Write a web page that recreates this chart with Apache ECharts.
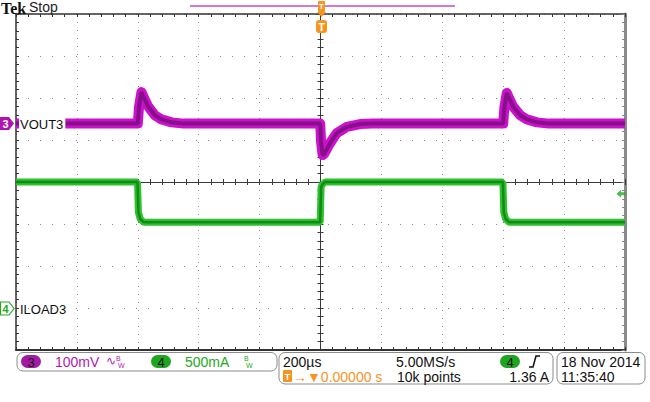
<!DOCTYPE html>
<html>
<head>
<meta charset="utf-8">
<script src="https://cdn.jsdelivr.net/npm/echarts@6/dist/echarts.min.js"></script>
<style>
  html, body { margin: 0; padding: 0; background: #fff; }
  #scope { width: 650px; height: 402px; }
</style>
</head>
<body>
<div id="scope"></div>
<script>
// horizontal: 200 us/div, 10 div, trigger in the middle
const timeMin = -1000;
const timeMax = 1000;

// CH3 VOUT3, mV relative to its ground marker (100 mV/div)
const voutTime = [-1000, -600, -596, -588, -580, -567, -544, -522, -489, -450,
  -1, 2, 7, 12, 31, 53, 86, 130, 170,
  600, 604, 612, 620, 633, 656, 678, 711, 750, 1000];
const voutMv = [0, 0, 40, 75, 62, 42, 20, 10, 3, 0,
  0, -45, -75, -72, -47, -23, -8, -1, 0,
  0, 40, 73, 60, 40, 20, 10, 3, 0, 0];

// CH4 ILOAD3, A (500 mA/div)
const iloadTime = [-1000, -601, -598, -592, -580, -1, 2, 6, 15, 599, 602, 608, 620, 1000];
const iloadAmp = [1.5, 1.5, 1.14, 1.06, 1.02, 1.02, 1.44, 1.47, 1.5, 1.5, 1.14, 1.06, 1.02, 1.02];

const ch3Range = [-539, 261];   // mV
const ch4Range = [-0.5, 3.5];   // A
const trigLevel = 1.36;         // A

const font = '"Liberation Sans", Arial, sans-serif';

function zip(a, b) {
  return a.map((v, i) => [v, b[i]]);
}

// plain text element, left aligned and vertically centred at (x, y)
function txt(x, y, text, color, size, opts) {
  opts = opts || {};
  return {
    type: 'text', x: x, y: y, z: 110,
    style: {
      text: text,
      fill: color || '#111',
      font: (opts.weight || '') + ' ' + (size || 14) + 'px ' + (opts.family || font),
      textAlign: opts.align || 'left',
      textVerticalAlign: 'middle',
      backgroundColor: opts.bg,
      padding: opts.pad
    }
  };
}

let myChart = echarts.init(document.getElementById('scope'), null, { renderer: 'svg' });

const tickAxisX = (pos, onZero, color, width) => ({
  type: 'value', min: timeMin, max: timeMax, interval: 40, position: pos,
  axisLine: { show: true, onZero: onZero, onZeroAxisIndex: 0, lineStyle: { color: color, width: width } },
  axisTick: { show: true, inside: true, length: 3, lineStyle: { color: color, width: 1 } },
  axisLabel: { show: false },
  splitLine: { show: false }
});
const tickAxisY = (pos, onZero, color, width) => ({
  type: 'value', min: -4, max: 4, interval: 0.2, position: pos,
  axisLine: { show: true, onZero: onZero, onZeroAxisIndex: 0, lineStyle: { color: color, width: width } },
  axisTick: { show: true, inside: true, length: 3, lineStyle: { color: color, width: 1 } },
  axisLabel: { show: false },
  splitLine: { show: false }
});

myChart.setOption({
  animation: false,
  backgroundColor: '#fff',
  grid: { left: 16, top: 14, width: 609, height: 336, containLabel: false },
  xAxis: [
    {
      // dotted verticals of the graticule (a dot every 1/5 div)
      type: 'value', min: timeMin, max: timeMax, interval: 200, position: 'bottom',
      axisLine: { show: false }, axisTick: { show: false }, axisLabel: { show: false },
      splitLine: { show: true, lineStyle: { color: '#8a8a8a', width: 1, type: [1, 7] } }
    },
    tickAxisX('bottom', true, '#3a3a3a', 1),   // centre line, ticks up
    tickAxisX('top', true, '#3a3a3a', 1),      // centre line, ticks down
    tickAxisX('bottom', false, '#333', 2),     // bottom border
    tickAxisX('top', false, '#333', 1.5)       // top border
  ],
  yAxis: [
    {
      // dotted horizontals of the graticule
      type: 'value', min: -4, max: 4, interval: 1, position: 'left',
      axisLine: { show: false }, axisTick: { show: false }, axisLabel: { show: false },
      splitLine: { show: true, lineStyle: { color: '#8a8a8a', width: 1, type: [1, 11] } }
    },
    tickAxisY('left', true, '#3a3a3a', 1),
    tickAxisY('right', true, '#3a3a3a', 1),
    tickAxisY('left', false, '#333', 1.5),
    tickAxisY('right', false, '#8a8a8a', 3),
    { type: 'value', show: false, min: ch3Range[0], max: ch3Range[1] },
    { type: 'value', show: false, min: ch4Range[0], max: ch4Range[1] }
  ],
  series: [
    {
      name: 'VOUT3', type: 'line', xAxisIndex: 0, yAxisIndex: 5, symbol: 'none', z: 3,
      lineStyle: { color: '#cc10cc', width: 10, join: 'round' },
      data: zip(voutTime, voutMv)
    },
    {
      name: 'VOUT3 core', type: 'line', xAxisIndex: 0, yAxisIndex: 5, symbol: 'none', z: 4,
      lineStyle: { color: '#86108a', width: 4 },
      data: zip(voutTime, voutMv)
    },
    {
      name: 'ILOAD3', type: 'line', xAxisIndex: 0, yAxisIndex: 6, symbol: 'none', z: 3,
      lineStyle: { color: '#2cc22c', width: 7 },
      data: zip(iloadTime, iloadAmp)
    },
    {
      name: 'ILOAD3 core', type: 'line', xAxisIndex: 0, yAxisIndex: 6, symbol: 'none', z: 4,
      lineStyle: { color: '#138a18', width: 2.5 },
      data: zip(iloadTime, iloadAmp)
    },
    {
      // trigger level arrow on the right edge
      name: 'trigger', type: 'scatter', xAxisIndex: 0, yAxisIndex: 6, z: 5,
      symbol: 'path://M0,5 L5,0 L5,3 L10,3 L10,7 L5,7 L5,10 Z',
      symbolSize: [9, 8],
      itemStyle: { color: '#22aa22' },
      data: [[987, trigLevel]]
    }
  ],
  graphic: [
    // header
    txt(1, 8, 'Tek', '#111', 16, { weight: 'bold', family: '"Liberation Serif", serif' }),
    txt(29, 7, 'Stop', '#222', 14),
    { type: 'line', z: 100, shape: { x1: 190, y1: 6, x2: 455, y2: 6 }, style: { stroke: '#d27ad2', lineWidth: 2 } },
    // trigger position markers
    { type: 'rect', z: 101, shape: { x: 318, y: 1, width: 7, height: 11, r: 1 }, style: { fill: '#f7941d' } },
    txt(321.5, 6.5, 'T', '#fff', 8, { weight: 'bold', align: 'center' }),
    { type: 'polygon', z: 101, shape: { points: [[317, 12], [326, 12], [321.5, 17]] }, style: { fill: '#f7941d' } },
    { type: 'rect', z: 101, shape: { x: 316, y: 20, width: 11, height: 13, r: 3 }, style: { fill: '#f7941d' } },
    txt(321.5, 27, 'T', '#fff', 11, { weight: 'bold', align: 'center' }),
    // channel 3 marker + label
    { type: 'polygon', z: 101, shape: { points: [[0, 117], [9, 117], [14, 123.5], [9, 130], [0, 130]] }, style: { fill: '#b014b0' } },
    txt(5.5, 124, '3', '#fff', 11, { weight: 'bold', align: 'center' }),
    txt(19, 124, 'VOUT3', '#111', 13, { bg: '#fff', pad: [2, 2, 2, 1] }),
    // channel 4 marker + label
    { type: 'polygon', z: 101, shape: { points: [[0.5, 302], [9, 302], [14, 308.5], [9, 315], [0.5, 315]] }, style: { fill: '#fff', stroke: '#22aa22', lineWidth: 1.2 } },
    txt(5.5, 309, '4', '#22aa22', 11, { weight: 'bold', align: 'center' }),
    txt(20, 309, 'ILOAD3', '#111', 13),
    // status bar: vertical settings
    { type: 'rect', z: 100, shape: { x: 17, y: 352.5, width: 260, height: 18.5, r: 6 }, style: { fill: '#fff', stroke: '#8c8c8c', lineWidth: 1 } },
    { type: 'rect', z: 101, shape: { x: 21, y: 355, width: 20, height: 13, r: 6.5 }, style: { fill: '#a51aa5' } },
    txt(31, 362, '3', '#111', 13, { align: 'center' }),
    txt(55, 362, '100mV', '#b01cb0', 14),
    txt(106, 361, '\u223F', '#b01cb0', 12),
    txt(116, 358, 'B', '#b01cb0', 7),
    txt(118, 365, 'W', '#b01cb0', 7),
    { type: 'rect', z: 101, shape: { x: 151, y: 355, width: 20, height: 13, r: 6.5 }, style: { fill: '#1fa51f' } },
    txt(161, 362, '4', '#111', 13, { align: 'center' }),
    txt(185, 362, '500mA', '#22aa22', 14),
    txt(244, 358, 'B', '#22aa22', 7),
    txt(246, 365, 'W', '#22aa22', 7),
    // status bar: horizontal / trigger
    { type: 'rect', z: 100, shape: { x: 279, y: 352.5, width: 274, height: 31.5, r: 6 }, style: { fill: '#fff', stroke: '#8c8c8c', lineWidth: 1 } },
    txt(283, 362, '200\u00b5s', '#111', 14),
    txt(396, 362, '5.00MS/s', '#111', 14),
    { type: 'rect', z: 101, shape: { x: 500, y: 355, width: 20, height: 13, r: 6.5 }, style: { fill: '#1fa51f' } },
    txt(510, 362, '4', '#111', 13, { align: 'center' }),
    { type: 'polyline', z: 101, shape: { points: [[529, 367], [533, 367], [536, 356], [540, 356]] }, style: { stroke: '#111', lineWidth: 1.5, fill: null } },
    { type: 'rect', z: 101, shape: { x: 283, y: 370, width: 9, height: 12, r: 1 }, style: { fill: '#f7941d' } },
    txt(287.5, 376.5, 'T', '#fff', 9, { weight: 'bold', align: 'center' }),
    txt(293, 377, '\u2192\u25BC0.00000 s', '#f7941d', 14),
    txt(397, 377, '10k points', '#111', 14),
    txt(549, 377, '1.36 A', '#111', 14, { align: 'right' }),
    // status bar: date / time
    { type: 'rect', z: 100, shape: { x: 557, y: 352.5, width: 88, height: 31.5, r: 6 }, style: { fill: '#fff', stroke: '#8c8c8c', lineWidth: 1 } },
    txt(561, 362, '18 Nov 2014', '#111', 14),
    txt(561, 377, '11:35:40', '#111', 14)
  ]
});

window.addEventListener('resize', () => {
  myChart.resize();
});
</script>
</body>
</html>
